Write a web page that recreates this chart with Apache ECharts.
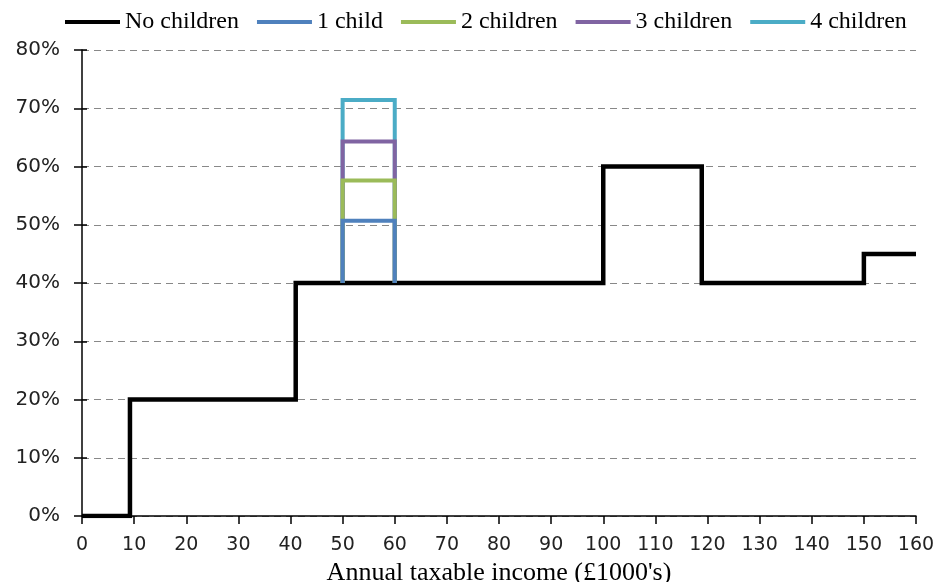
<!DOCTYPE html>
<html>
<head>
<meta charset="utf-8">
<script src="https://cdn.jsdelivr.net/npm/echarts@6/dist/echarts.min.js"></script>
<style>html,body{margin:0;padding:0;background:#fff}#c{width:938px;height:582px}</style>
</head>
<body>
<div id="c"></div>
<script>
// Income thresholds (£1000's) and marginal rates (%)
const seriesNames = ['No children', '1 child', '2 children', '3 children', '4 children'];
const colors = ['#000000', '#4f81bd', '#9bbb59', '#8064a2', '#4bacc6'];
const noChildIncome = [0, 9.2, 9.2, 41.0, 41.0, 100, 100, 118.9, 118.9, 150, 150, 160];
const noChildRate   = [0, 0, 20, 20, 40, 40, 60, 60, 40, 40, 45, 45];
const childIncome = [50, 50, 60, 60];
const child1Rate = [40, 50.7, 50.7, 40];
const child2Rate = [40, 57.6, 57.6, 40];
const child3Rate = [40, 64.3, 64.3, 40];
const child4Rate = [40, 71.4, 71.4, 40];
const xTicks = [0, 160, 10];
const yTicks = [0, 80, 10];

function pairs(xs, ys) { return xs.map((x, i) => [x, ys[i]]); }

const chart = echarts.init(document.getElementById('c'), null, {renderer: 'canvas'});
const childRates = [child1Rate, child2Rate, child3Rate, child4Rate];
const series = [{
  name: seriesNames[0], type: 'line', data: pairs(noChildIncome, noChildRate),
  symbol: 'none', lineStyle: {color: colors[0], width: 4.5, join: 'miter'}, itemStyle: {color: colors[0]}, z: 2
}];
childRates.forEach((r, i) => {
  series.push({
    name: seriesNames[i + 1], type: 'line', data: pairs(childIncome, r),
    symbol: 'none', lineStyle: {color: colors[i + 1], width: 4, join: 'miter'}, itemStyle: {color: colors[i + 1]},
    z: 10 - i
  });
});

chart.setOption({
  animation: false,
  textStyle: {fontFamily: 'Liberation Serif'},
  legend: {
    data: seriesNames, left: 60, top: 5, icon: 'rect', itemWidth: 55, itemHeight: 4, itemGap: 18,
    textStyle: {fontFamily: 'Liberation Serif', fontSize: 24, color: '#000'}
  },
  grid: {left: 82, right: 22, top: 50, bottom: 66, containLabel: false, outerBoundsMode: 'none'},
  xAxis: {
    type: 'value', min: xTicks[0], max: xTicks[1], interval: xTicks[2],
    name: "Annual taxable income (£1000's)", nameLocation: 'middle', nameGap: 41,
    nameTextStyle: {fontFamily: 'Liberation Serif', fontSize: 26, color: '#000'},
    axisLine: {lineStyle: {color: '#000', width: 1.5}},
    axisTick: {show: true, length: 8, lineStyle: {color: '#000', width: 1.5}},
    axisLabel: {fontFamily: 'DejaVu Sans', fontSize: 19, color: '#222', margin: 20},
    splitLine: {show: false}
  },
  yAxis: [{
    type: 'value', min: yTicks[0], max: yTicks[1], interval: yTicks[2],
    axisLine: {show: true, lineStyle: {color: '#000', width: 1.5}},
    axisTick: {show: true, length: 8, lineStyle: {color: '#000', width: 1.5}},
    axisLabel: {formatter: '{value}%', fontFamily: 'DejaVu Sans', fontSize: 20, color: '#222', margin: 22},
    splitLine: {show: true, lineStyle: {color: '#888', type: [7, 5], width: 1.2}}
  }, {
    type: 'value', position: 'left', min: yTicks[0], max: yTicks[1], interval: yTicks[2],
    axisLine: {show: false},
    axisTick: {show: true, inside: true, length: 5, lineStyle: {color: '#000', width: 1.5}},
    axisLabel: {show: false},
    splitLine: {show: false}
  }],
  series: series
});
</script>
</body>
</html>
